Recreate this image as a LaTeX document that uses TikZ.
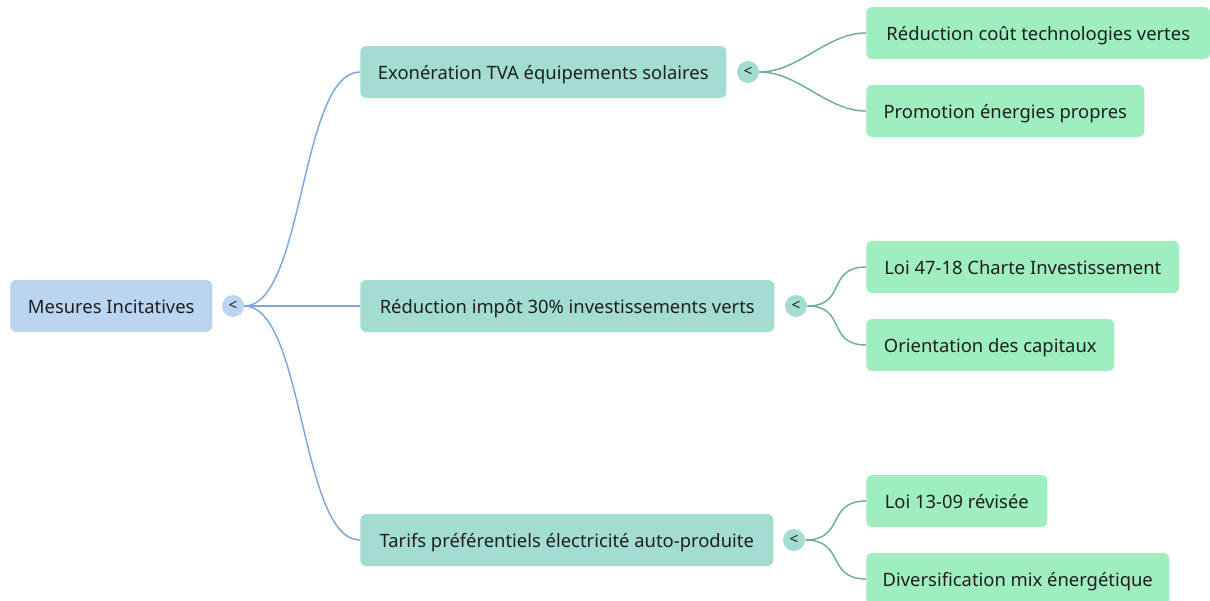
\documentclass[tikz,border=0pt]{standalone}
\usepackage{fontspec}
\setmainfont{Noto Sans}
\begin{document}
\begin{tikzpicture}[x=0.75pt,y=-0.75pt,
  box/.style={rounded corners=4.5pt, minimum height=39pt, inner sep=0pt, anchor=west, text=textc, text height=10.5pt, text depth=0pt, font=\fontsize{13.8}{15}\selectfont},
  rootbox/.style={box, fill=rootc},
  lonebox/.style={box, fill=onec},
  ltwobox/.style={box, fill=twoc},
  knob/.style={circle, minimum size=16.5pt, inner sep=0pt, text=textc, font=\fontsize{11.5}{12}\selectfont\bfseries},
  rootedge/.style={draw=rootedgec, line width=1.1pt},
  oneedge/.style={draw=oneedgec, line width=1.1pt}]
\definecolor{rootc}{HTML}{BBD5F1}
\definecolor{onec}{HTML}{A3DDD1}
\definecolor{twoc}{HTML}{9FEEC0}
\definecolor{textc}{HTML}{1F1F1F}
\definecolor{rootedgec}{HTML}{7CA8DB}
\definecolor{oneedgec}{HTML}{6DAE9E}
\useasboundingbox (0,0) rectangle (1210,600);
\clip (0,0) rectangle (1210,600);
% root
\node[rootbox, minimum width=151.5pt] (root) at (10,306) {Mesures Incitatives};
\node[knob, fill=rootc] (rk) at (233,306) {<};
% level 1
\node[lonebox, minimum width=274.5pt] (a) at (360,72) {Exonération TVA équipements solaires};
\node[lonebox, minimum width=310.5pt] (b) at (360,306) {Réduction impôt 30\% investissements verts};
\node[lonebox, minimum width=309.75pt] (c) at (360,540) {Tarifs préférentiels électricité auto-produite};
\node[knob, fill=onec] (ak) at (748,72) {<};
\node[knob, fill=onec] (bk) at (796,306) {<};
\node[knob, fill=onec] (ck) at (794,540) {<};
% level 2
\node[ltwobox, minimum width=258pt] (a1) at (866,33) {Réduction coût technologies vertes};
\node[ltwobox, minimum width=208.5pt] (a2) at (866,111) {Promotion énergies propres};
\node[ltwobox, minimum width=234.75pt] (b1) at (866,267) {Loi 47-18 Charte Investissement};
\node[ltwobox, minimum width=186pt] (b2) at (866,345) {Orientation des capitaux};
\node[ltwobox, minimum width=135.75pt] (c1) at (866,501) {Loi 13-09 révisée};
\node[ltwobox, minimum width=227.25pt] (c2) at (866,579) {Diversification mix énergétique};
% edges
\foreach \t in {a,b,c}{
  \draw[rootedge] (rk.east) .. controls ([xshift=45pt]rk.east) and ([xshift=-45pt]\t.west) .. (\t.west);
}
\foreach \s/\t in {ak/a1,ak/a2,bk/b1,bk/b2,ck/c1,ck/c2}{
  \draw[oneedge] (\s.east) .. controls ([xshift=30pt]\s.east) and ([xshift=-30pt]\t.west) .. (\t.west);
}
\end{tikzpicture}
\end{document}
